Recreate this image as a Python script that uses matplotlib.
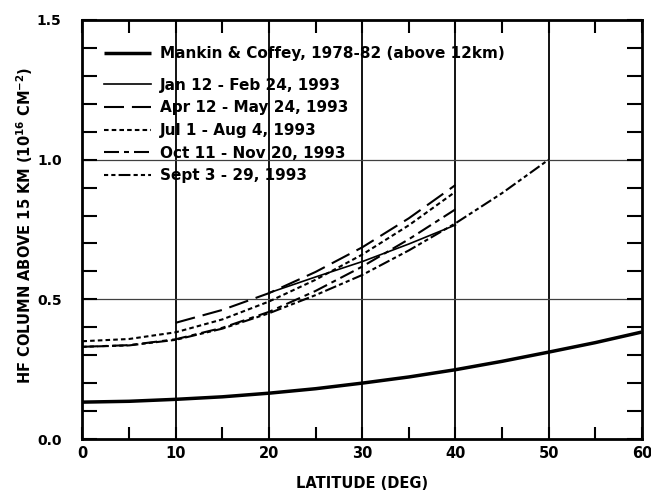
import matplotlib
matplotlib.use("Agg")
import matplotlib.pyplot as plt
from matplotlib.ticker import MultipleLocator, FixedLocator

plt.rcParams['font.family'] = ['DejaVu Sans']
plt.rcParams['font.weight'] = 'bold'
plt.rcParams['mathtext.default'] = 'bf'

# HF column (1e16 cm^-2) versus latitude (deg)
lat_mc = [0, 5, 10, 15, 20, 25, 30, 35, 40, 45, 50, 55, 60]
hf_mc = [0.132, 0.135, 0.142, 0.151, 0.164, 0.180, 0.200, 0.222, 0.248, 0.278, 0.311, 0.345, 0.383]

lat_jan = [20, 25, 30, 35, 40]
hf_jan = [0.523, 0.580, 0.635, 0.698, 0.766]

lat_apr = [10, 15, 20, 25, 30, 35, 40]
hf_apr = [0.416, 0.462, 0.522, 0.598, 0.686, 0.790, 0.909]

lat_jul = [0, 5, 10, 15, 20, 25, 30, 35, 40]
hf_jul = [0.350, 0.358, 0.382, 0.428, 0.492, 0.570, 0.660, 0.765, 0.885]

lat_oct = [0, 5, 10, 15, 20, 25, 30, 35, 40]
hf_oct = [0.330, 0.336, 0.357, 0.398, 0.455, 0.530, 0.617, 0.715, 0.822]

lat_sep = [0, 5, 10, 15, 20, 25, 30, 35, 40, 45, 50]
hf_sep = [0.330, 0.335, 0.355, 0.395, 0.450, 0.515, 0.587, 0.675, 0.772, 0.880, 1.000]

x_ticks = [0, 10, 20, 30, 40, 50, 60]
y_ticks = [0.0, 0.5, 1.0, 1.5]

fig = plt.figure(figsize=(6.51, 4.97), dpi=100)
ax = fig.add_axes([0.1266, 0.1167, 0.8594, 0.8431])

# grid
for xv in [10, 20, 30, 40, 50]:
    ax.axvline(xv, color='black', lw=1.3, zorder=1)
for yv in [0.5, 1.0]:
    ax.axhline(yv, color='#404040', lw=0.9, zorder=1)

mc, = ax.plot(lat_mc, hf_mc, color='black', lw=2.5, solid_capstyle='butt', zorder=3)
jan, = ax.plot(lat_jan, hf_jan, color='black', lw=1.2, zorder=3)
apr, = ax.plot(lat_apr, hf_apr, color='black', lw=1.5, dashes=(9.6, 3.8), zorder=3)
jul, = ax.plot(lat_jul, hf_jul, color='black', lw=1.5, dashes=(2.2, 1.5), zorder=3)
octl, = ax.plot(lat_oct, hf_oct, color='black', lw=1.5, dashes=(7.2, 2.4, 2.4, 2.4), zorder=3)
sep, = ax.plot(lat_sep, hf_sep, color='black', lw=1.5,
               dashes=(2.0, 1.5, 2.0, 1.5, 5.7, 1.5), zorder=3)

ax.set_xlim(0, 60)
ax.set_ylim(0, 1.5)
ax.xaxis.set_major_locator(FixedLocator(x_ticks))
ax.xaxis.set_minor_locator(MultipleLocator(5))
ax.yaxis.set_major_locator(FixedLocator(y_ticks))
ax.yaxis.set_minor_locator(MultipleLocator(0.1))
ax.set_xticklabels([str(v) for v in x_ticks])
ax.set_yticklabels([f"{v:.1f}" for v in y_ticks])

ax.tick_params(which='both', direction='in', top=True, right=True, width=1.5, colors='black')
ax.tick_params(axis='x', which='both', length=9, pad=5, labelsize=10.5)
ax.tick_params(axis='y', which='both', length=11, pad=15, labelsize=10)
for lab in ax.get_xticklabels() + ax.get_yticklabels():
    lab.set_fontweight('bold')
for s in ax.spines.values():
    s.set_linewidth(2.0)
    s.set_zorder(4)

ax.set_xlabel("LATITUDE (DEG)", fontsize=10.5, fontweight='bold', labelpad=11)
ax.set_ylabel(r"HF COLUMN ABOVE 15 KM (10$^{16}$ CM$^{-2}$)", fontsize=10.5,
              fontweight='bold')
ax.yaxis.set_label_coords(-0.084, 0.51)

leg1 = ax.legend([mc], ["Mankin & Coffey, 1978-82 (above 12km)"], loc='upper left',
                 bbox_to_anchor=(0.038, 0.938), frameon=False, handlelength=3.1,
                 handletextpad=0.6, borderpad=0, borderaxespad=0,
                 prop={'size': 11, 'weight': 'bold'})
ax.add_artist(leg1)
ax.legend([jan, apr, jul, octl, sep],
          ["Jan 12 - Feb 24, 1993", "Apr 12 - May 24, 1993", "Jul 1 - Aug 4, 1993",
           "Oct 11 - Nov 20, 1993", "Sept 3 - 29, 1993"],
          loc='upper left', bbox_to_anchor=(0.038, 0.862), frameon=False,
          handlelength=3.1, handletextpad=0.6, borderpad=0, borderaxespad=0,
          labelspacing=0.5, prop={'size': 11, 'weight': 'bold'})

fig.savefig("out.png", dpi=100)
